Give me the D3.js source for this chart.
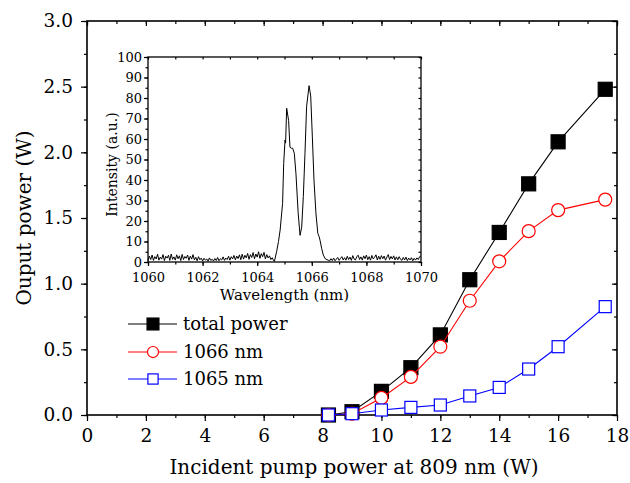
<!DOCTYPE html>
<html>
<head>
<meta charset="utf-8">
<script src="https://cdn.jsdelivr.net/npm/d3@7"></script>
<style>
  body { margin: 0; background: #fff; }
  text { font-family: "DejaVu Serif", serif; fill: #000; }
</style>
</head>
<body>
<script>
// pump power (W) and output powers (W)
const pump = [8.2, 9, 10, 11, 12, 13, 14, 15, 16, 17.6];
const totalPower = [0.0, 0.025, 0.18, 0.36, 0.61, 1.03, 1.39, 1.76, 2.08, 2.48];
const power1066 = [0.0, 0.01, 0.13, 0.29, 0.52, 0.87, 1.17, 1.40, 1.56, 1.64];
const power1065 = [0.0, 0.01, 0.038, 0.058, 0.076, 0.145, 0.21, 0.35, 0.52, 0.825];
const xTicks = [0, 2, 4, 6, 8, 10, 12, 14, 16, 18];
const yTicks = [0.0, 0.5, 1.0, 1.5, 2.0, 2.5, 3.0];

// inset spectrum: noise floor before the lines (from 1060 nm, 0.05 nm step)
const baseStart1 = 1060;
const baseline1 = [0.6,2.9,1.2,3.4,0.8,2.6,1.5,3.8,0.9,2.4,
  1.4,3.6,0.7,2.8,1.9,3.3,0.8,3.9,1.3,2.5,
  0.9,3.5,1.6,3.0,0.7,3.7,1.2,2.7,1.8,3.4,
  0.8,2.9,1.4,3.6,1.0,2.3,0.6,2.6,1.1,1.9,
  0.5,1.8,0.9,1.5,0.4,2.0,0.8,1.3,0.5,1.7,
  0.7,2.2,0.6,1.6,1.0,2.5,0.8,1.9,1.2,2.8,
  0.9,2.6,1.5,3.2,1.0,2.9,1.7,3.5,1.1,3.8,
  1.4,3.3,2.0,4.2,1.3,3.6,2.2,4.6,1.6,3.9,
  2.4,5.0,1.8,4.1,2.6,4.7,1.5,3.6,2.0,3.0,
  1.2,2.1,0.7];
// the two emission lines [wavelength nm, intensity]
const peaks = [[1064.63,0.3],[1064.71,5],[1064.78,10],[1064.84,15.6],[1064.93,28.6],
  [1064.97,48],[1065.02,59.5],[1065.04,58],[1065.08,75],[1065.15,69],[1065.2,56],
  [1065.25,55.5],[1065.3,55.5],[1065.36,53],[1065.42,43],[1065.5,24],[1065.57,13],
  [1065.63,17],[1065.69,32],[1065.75,53],[1065.81,76],[1065.9,86],[1065.96,81],
  [1066.02,61],[1066.08,40],[1066.15,24],[1066.22,14],[1066.27,12.3],[1066.3,10.7],
  [1066.36,6.7],[1066.42,3.4],[1066.5,1.5]];
// noise floor after the lines (from 1066.6 nm, 0.05 nm step)
const baseStart2 = 1066.6;
const baseline2 = [0.9,0.5,1.6,0.7,1.9,0.6,1.4,2.2,0.8,1.7,
  2.6,1.0,2.1,0.9,2.8,1.2,2.4,0.8,3.1,1.4,
  1.0,2.7,3.3,1.2,2.5,0.9,3.0,1.6,3.4,1.1,
  2.6,0.9,3.2,1.5,2.3,3.5,1.0,2.8,1.3,3.1,
  1.6,2.9,0.9,2.4,3.6,1.2,2.7,1.5,3.0,1.0,
  2.5,1.1,2.6,1.3,0.8,2.2,1.0,2.4,0.7,1.9,
  1.0,2.1,0.6,1.8,0.9,2.0,1.2,2.6,3.0];
const wlTicks = [1060, 1062, 1064, 1066, 1068, 1070];
const intTicks = [0, 10, 20, 30, 40, 50, 60, 70, 80, 90, 100];

const W = 630, H = 483;
const svg = d3.select("body").append("svg")
  .attr("width", W).attr("height", H);

// ---- main plot ----
const mLeft = 87, mRight = 617, mTop = 21, mBottom = 415;
const x = d3.scaleLinear().domain([0, 18]).range([mLeft, mRight]);
const y = d3.scaleLinear().domain([0, 3]).range([mBottom, mTop]);

const minorX = d3.range(0, 18.01, 1);
const minorY = d3.range(0, 3.01, 0.25);

function ticks(g, axis) {
  g.call(axis);
  g.select(".domain").remove();
  g.selectAll(".tick line").attr("stroke", "#000").attr("stroke-width", 1.2);
}

// bottom (outward, labelled)
svg.append("g").attr("transform", `translate(0,${mBottom})`)
  .call(g => ticks(g, d3.axisBottom(x).tickValues(minorX).tickSize(3).tickFormat("")));
svg.append("g").attr("transform", `translate(0,${mBottom})`)
  .call(g => ticks(g, d3.axisBottom(x).tickValues(xTicks).tickSize(6).tickPadding(8).tickFormat(d3.format("d"))))
  .selectAll("text").attr("font-size", 18.5);
// top (inward)
svg.append("g").attr("transform", `translate(0,${mTop})`)
  .call(g => ticks(g, d3.axisBottom(x).tickValues(minorX).tickSize(3).tickFormat("")));
svg.append("g").attr("transform", `translate(0,${mTop})`)
  .call(g => ticks(g, d3.axisBottom(x).tickValues(xTicks).tickSize(5).tickFormat("")));
// left (outward, labelled)
svg.append("g").attr("transform", `translate(${mLeft},0)`)
  .call(g => ticks(g, d3.axisLeft(y).tickValues(minorY).tickSize(3).tickFormat("")));
svg.append("g").attr("transform", `translate(${mLeft},0)`)
  .call(g => ticks(g, d3.axisLeft(y).tickValues(yTicks).tickSize(6).tickPadding(8).tickFormat(d3.format(".1f"))))
  .selectAll("text").attr("font-size", 18.5);
// right (inward)
svg.append("g").attr("transform", `translate(${mRight},0)`)
  .call(g => ticks(g, d3.axisLeft(y).tickValues(minorY).tickSize(3).tickFormat("")));
svg.append("g").attr("transform", `translate(${mRight},0)`)
  .call(g => ticks(g, d3.axisLeft(y).tickValues(yTicks).tickSize(5).tickFormat("")));

svg.append("rect")
  .attr("x", mLeft).attr("y", mTop)
  .attr("width", mRight - mLeft).attr("height", mBottom - mTop)
  .attr("fill", "none").attr("stroke", "#000").attr("stroke-width", 1.6);

svg.append("text")
  .attr("x", (mLeft + mRight) / 2 + 2).attr("y", 474)
  .attr("text-anchor", "middle").attr("font-size", 20)
  .text("Incident pump power at 809 nm (W)");
svg.append("text")
  .attr("transform", `translate(31,${(mTop + mBottom) / 2}) rotate(-90)`)
  .attr("text-anchor", "middle").attr("font-size", 20)
  .text("Ouput power (W)");

const series = [
  { name: "total power", values: totalPower, color: "#000", shape: "square", size: 14, fill: "#000" },
  { name: "1066 nm", values: power1066, color: "#ff0000", shape: "circle", size: 13, fill: "#fff" },
  { name: "1065 nm", values: power1065, color: "#0000ff", shape: "square", size: 12, fill: "#fff" }
];

const line = d3.line().x(d => x(d[0])).y(d => y(d[1]));

function marker(g, s, cx, cy) {
  if (s.shape === "square") {
    g.append("rect")
      .attr("x", cx - s.size / 2).attr("y", cy - s.size / 2)
      .attr("width", s.size).attr("height", s.size)
      .attr("fill", s.fill).attr("stroke", s.color).attr("stroke-width", 1.2);
  } else {
    g.append("circle")
      .attr("cx", cx).attr("cy", cy).attr("r", s.size / 2)
      .attr("fill", s.fill).attr("stroke", s.color).attr("stroke-width", 1.2);
  }
}

series.forEach(s => {
  const pts = pump.map((p, i) => [p, s.values[i]]);
  const g = svg.append("g");
  g.append("path").datum(pts)
    .attr("d", line).attr("fill", "none")
    .attr("stroke", s.color).attr("stroke-width", 1.1);
  pts.forEach(d => marker(g, s, x(d[0]), y(d[1])));
});

// legend
const legX = 128, legY = [324, 352, 379];
series.forEach((s, i) => {
  const g = svg.append("g");
  g.append("line")
    .attr("x1", legX).attr("x2", legX + 49)
    .attr("y1", legY[i]).attr("y2", legY[i])
    .attr("stroke", s.color).attr("stroke-width", 1.1);
  marker(g, { ...s, size: s.size * 0.85 }, legX + 25, legY[i]);
  g.append("text")
    .attr("x", legX + 55).attr("y", legY[i])
    .attr("dy", "0.35em").attr("font-size", 18)
    .text(s.name);
});

// ---- inset ----
const iLeft = 148, iRight = 421, iTop = 57, iBottom = 262;
const ix = d3.scaleLinear().domain([1060, 1070]).range([iLeft, iRight]);
const iy = d3.scaleLinear().domain([0, 100]).range([iBottom, iTop]);

const spectrum = []
  .concat(baseline1.map((v, i) => [baseStart1 + i * 0.05, v]))
  .concat(peaks)
  .concat(baseline2.map((v, i) => [baseStart2 + i * 0.05, v]));

const iMinorX = d3.range(1060, 1070.01, 1);
const iMinorY = d3.range(0, 100.01, 5);

svg.append("g").attr("transform", `translate(0,${iBottom})`)
  .call(g => ticks(g, d3.axisBottom(ix).tickValues(iMinorX).tickSize(2.5).tickFormat("")));
svg.append("g").attr("transform", `translate(0,${iBottom})`)
  .call(g => ticks(g, d3.axisBottom(ix).tickValues(wlTicks).tickSize(4).tickPadding(7).tickFormat(d3.format("d"))))
  .selectAll("text").attr("font-size", 13);
svg.append("g").attr("transform", `translate(0,${iTop})`)
  .call(g => ticks(g, d3.axisBottom(ix).tickValues(iMinorX).tickSize(2.5).tickFormat("")));
svg.append("g").attr("transform", `translate(${iLeft},0)`)
  .call(g => ticks(g, d3.axisLeft(iy).tickValues(iMinorY).tickSize(2.5).tickFormat("")));
svg.append("g").attr("transform", `translate(${iLeft},0)`)
  .call(g => ticks(g, d3.axisLeft(iy).tickValues(intTicks).tickSize(4).tickPadding(2).tickFormat(d3.format("d"))))
  .selectAll("text").attr("font-size", 13);
svg.append("g").attr("transform", `translate(${iRight},0)`)
  .call(g => ticks(g, d3.axisLeft(iy).tickValues(iMinorY).tickSize(2.5).tickFormat("")));

svg.append("rect")
  .attr("x", iLeft).attr("y", iTop)
  .attr("width", iRight - iLeft).attr("height", iBottom - iTop)
  .attr("fill", "none").attr("stroke", "#000").attr("stroke-width", 1.3);

svg.append("path").datum(spectrum)
  .attr("d", d3.line().x(d => ix(d[0])).y(d => iy(d[1])))
  .attr("fill", "none").attr("stroke", "#000").attr("stroke-width", 1);

svg.append("text")
  .attr("x", (iLeft + iRight) / 2).attr("y", 300)
  .attr("text-anchor", "middle").attr("font-size", 15)
  .text("Wavelength (nm)");
svg.append("text")
  .attr("transform", `translate(117,${(iTop + iBottom) / 2 + 5}) rotate(-90)`)
  .attr("text-anchor", "middle").attr("font-size", 14)
  .text("Intensity (a.u.)");
</script>
</body>
</html>
